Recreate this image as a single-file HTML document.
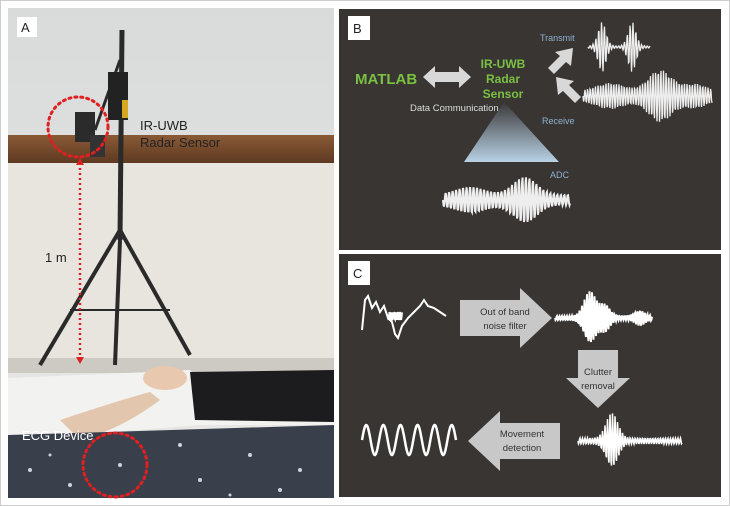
<!DOCTYPE html>
<html><head><meta charset="utf-8"><style>
html,body{margin:0;padding:0;background:#fff;}
svg{display:block;}
text{font-family:"Liberation Sans",sans-serif;}
</style></head><body>
<svg id="s" width="730" height="506" viewBox="0 0 730 506" xmlns="http://www.w3.org/2000/svg">
<defs>
<linearGradient id="wall" x1="0" y1="0" x2="0" y2="1"><stop offset="0" stop-color="#d9dbdb"/><stop offset="1" stop-color="#e8e8e5"/></linearGradient>
<linearGradient id="tri" x1="0" y1="0" x2="0" y2="1"><stop offset="0" stop-color="#3a3838"/><stop offset="1" stop-color="#b8d2e6"/></linearGradient>
<linearGradient id="wood" x1="0" y1="0" x2="0" y2="1"><stop offset="0" stop-color="#8a5a36"/><stop offset="1" stop-color="#5e3a22"/></linearGradient>
</defs>
<rect x="0.5" y="0.5" width="729" height="505" fill="#fff" stroke="#ccc"/>
<g>
<rect x="8" y="8" width="326" height="490" fill="url(#wall)"/>
<rect x="8" y="135" width="326" height="28" fill="url(#wood)"/>
<rect x="8" y="163" width="326" height="200" fill="#e8e5de"/>
<rect x="8" y="358" width="326" height="15" fill="#cdcac4"/>
<path d="M8 378 L150 372 L190 370 L200 380 L334 372 L334 425 L200 425 L8 440 Z" fill="#f2f2f0"/>
<path d="M190 372 L334 370 L334 422 L195 420 Z" fill="#1c1c1e"/>
<ellipse cx="165" cy="378" rx="22" ry="12" fill="#e8c9b0"/>
<path d="M60 420 Q120 400 150 392 L160 400 Q120 430 80 440 Z" fill="#e3c6ae"/>
<path d="M8 435 L334 425 L334 498 L8 498 Z" fill="#3a3f4c"/>
<g fill="#cfd3dc">
<circle cx="30" cy="470" r="2"/><circle cx="70" cy="485" r="2"/><circle cx="120" cy="465" r="2"/><circle cx="200" cy="480" r="2"/><circle cx="250" cy="455" r="2"/><circle cx="300" cy="470" r="2"/><circle cx="180" cy="445" r="2"/><circle cx="50" cy="455" r="1.5"/><circle cx="280" cy="490" r="2"/><circle cx="230" cy="495" r="1.5"/>
</g>
<g stroke="#2a2a2a" fill="none">
<line x1="122" y1="30" x2="120" y2="240" stroke-width="5"/>
<line x1="120" y1="240" x2="115" y2="365" stroke-width="4"/>
<line x1="120" y1="230" x2="40" y2="365" stroke-width="4"/>
<line x1="120" y1="230" x2="190" y2="355" stroke-width="4"/>
<line x1="70" y1="310" x2="170" y2="310" stroke-width="2"/>
<line x1="120" y1="60" x2="95" y2="130" stroke-width="3"/>
</g>
<rect x="108" y="72" width="20" height="48" fill="#222"/>
<rect x="122" y="100" width="6" height="18" fill="#d4a820"/>
<rect x="75" y="112" width="20" height="30" fill="#2b2b2b"/>
<rect x="90" y="135" width="15" height="22" fill="#333"/>
<circle cx="78" cy="127" r="30" fill="none" stroke="#e02020" stroke-width="3" stroke-dasharray="2 4" stroke-linecap="round"/>
<circle cx="115" cy="465" r="32" fill="none" stroke="#e02020" stroke-width="3" stroke-dasharray="2 4" stroke-linecap="round"/>
<line x1="80" y1="163" x2="80" y2="360" stroke="#e02020" stroke-width="2.5" stroke-dasharray="2 3"/>
<path d="M80 158 l-4 7 h8 z M80 364 l-4 -7 h8 z" fill="#e02020"/>
<text x="140" y="130" font-size="13" fill="#222">IR-UWB</text>
<text x="140" y="147" font-size="13" fill="#222">Radar Sensor</text>
<text x="45" y="262" font-size="13" fill="#222">1 m</text>
<text x="22" y="440" font-size="13" fill="#fff">ECG Device</text>
<rect x="17" y="17" width="20" height="20" fill="#fff"/>
<text x="21" y="32" font-size="13" fill="#222">A</text>
</g>
<rect x="339" y="9" width="382" height="241" fill="#383533"/>
<rect x="348" y="16" width="22" height="24" fill="#fff"/>
<text x="353" y="33" font-size="13" fill="#222">B</text>
<text x="355" y="84" font-size="15" font-weight="bold" fill="#7bc043">MATLAB</text>
<path d="M423 77 l12 -11 v6 h24 v-6 l12 11 l-12 11 v-6 h-24 v6 z" fill="#d8d8d8"/>
<text x="503" y="68" font-size="12" font-weight="bold" fill="#7bc043" text-anchor="middle">IR-UWB</text>
<text x="503" y="83" font-size="12" font-weight="bold" fill="#7bc043" text-anchor="middle">Radar</text>
<text x="503" y="98" font-size="12" font-weight="bold" fill="#7bc043" text-anchor="middle">Sensor</text>
<text x="410" y="111" font-size="9.5" fill="#ddd">Data Communication</text>
<text x="540" y="41" font-size="9" fill="#8fb0d0">Transmit</text>
<text x="542" y="124" font-size="9" fill="#8fb0d0">Receive</text>
<text x="550" y="178" font-size="9" fill="#8fb0d0">ADC</text>
<path d="M504 102 L559 162 L464 162 Z" fill="url(#tri)"/>
<path d="M548 68 l12 -12 l-5 -4 l18 -4 l-2 18 l-5 -4 l-12 12 z" fill="#d8d8d8"/>
<path d="M575 103 l-12 -12 l-5 4 l-2 -18 l18 4 l-5 4 l12 12 z" fill="#d8d8d8"/>
<g id="waves" stroke="#eee" fill="none" stroke-width="1.3"></g>
<rect x="339" y="254" width="382" height="243" fill="#383533"/>
<rect x="348" y="261" width="22" height="24" fill="#fff"/>
<text x="353" y="278" font-size="13" fill="#222">C</text>
<path d="M460 300 h60 v-12 l32 30 l-32 30 v-12 h-60 z" fill="#c8c8c8"/>
<text x="505" y="315" font-size="9.5" fill="#333" text-anchor="middle">Out of band</text>
<text x="505" y="329" font-size="9.5" fill="#333" text-anchor="middle">noise filter</text>
<path d="M578 350 h40 v28 h12 l-32 30 l-32 -30 h12 z" fill="#c8c8c8"/>
<text x="598" y="375" font-size="9.5" fill="#333" text-anchor="middle">Clutter</text>
<text x="598" y="389" font-size="9.5" fill="#333" text-anchor="middle">removal</text>
<path d="M560 423 h-60 v-12 l-32 30 l32 30 v-12 h60 z" fill="#c8c8c8"/>
<text x="522" y="437" font-size="9.5" fill="#333" text-anchor="middle">Movement</text>
<text x="522" y="451" font-size="9.5" fill="#333" text-anchor="middle">detection</text>
<g id="waves2" stroke="#fff" fill="none" stroke-width="2"></g>
</svg>
<script>
function poly(g,pts,w){var p=document.createElementNS("http://www.w3.org/2000/svg","polyline");p.setAttribute("points",pts.map(function(a){return a[0].toFixed(1)+","+a[1].toFixed(1)}).join(" "));if(w)p.setAttribute("stroke-width",w);document.getElementById(g).appendChild(p);}
function burst(g,x0,x1,yc,env,freq,w){var a=[];for(var x=x0;x<=x1;x+=0.5){a.push([x,yc+env(x)*Math.sin((x-x0)*freq)]);}poly(g,a,w);}
function gauss(c,s,h){return function(x){return h*Math.exp(-((x-c)*(x-c))/(2*s*s));};}
function sum(){var f=arguments;return function(x){var t=0;for(var i=0;i<f.length;i++)t+=f[i](x);return t;};}
burst("waves",588,650,47,sum(gauss(602,4,24),gauss(632,4,24),function(){return 1;}),2.2);
burst("waves",583,712,96,sum(gauss(610,15,9),gauss(660,12,22),gauss(695,12,8),function(){return 4;}),2.4);
burst("waves",443,570,200,sum(gauss(470,15,8),gauss(525,12,18),function(){return 5;}),1.8,2);
var a=[];for(var x=362;x<=446;x+=1){var base=300+(x-362)*0.9*(x<400?1:0)+(x>=400?334-(x-400)*0.5:0)*(x>=400?1:0);}
var pts=[[362,330],[365,300],[368,296],[372,308],[376,302],[380,312],[384,306],[388,318],[392,322],[395,334],[398,338],[402,326],[408,318],[414,312],[420,306],[424,300],[428,306],[434,308],[440,312],[446,316]];
poly("waves2",pts,2);
burst("waves2",388,402,316,function(){return 4;},3,2);
burst("waves2",555,652,318,sum(gauss(590,6,25),gauss(605,5,12),gauss(640,5,6),function(){return 2;}),2.5,2);
burst("waves2",578,682,441,sum(gauss(612,6,25),function(){return 3;}),2.5,1.5);
var b=[];for(var x=362;x<=456;x+=0.5){b.push([x,440-15*Math.sin((x-362)/94*5.5*2*Math.PI)]);}poly("waves2",b,2.5);
</script>
</body></html>
